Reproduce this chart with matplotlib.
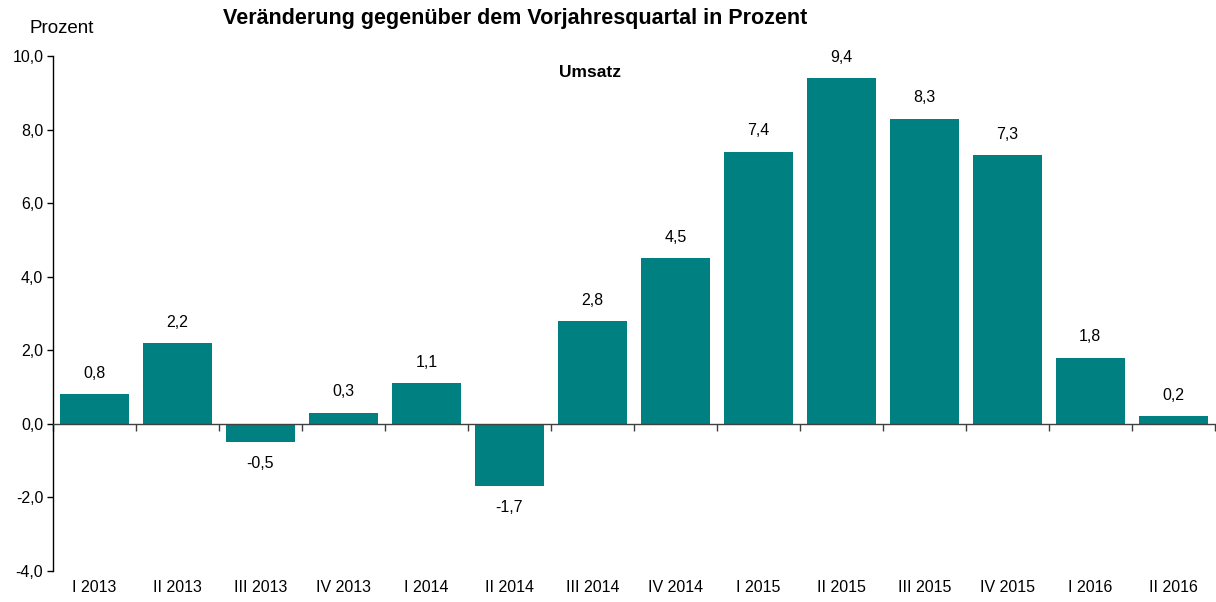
import matplotlib.pyplot as plt
import matplotlib.transforms as mtransforms
import numpy as np

plt.rcParams['font.family'] = ['Liberation Sans', 'DejaVu Sans']

quarters = ["I 2013", "II 2013", "III 2013", "IV 2013", "I 2014", "II 2014", "III 2014",
            "IV 2014", "I 2015", "II 2015", "III 2015", "IV 2015", "I 2016", "II 2016"]
umsatz = [0.8, 2.2, -0.5, 0.3, 1.1, -1.7, 2.8, 4.5, 7.4, 9.4, 8.3, 7.3, 1.8, 0.2]
yticks = [-4, -2, 0, 2, 4, 6, 8, 10]

teal = "#008080"

fig = plt.figure(figsize=(12.16, 6.02), dpi=100)
ax = fig.add_axes([0.0436, 0.0515, 0.9554, 0.8555])

x = np.arange(len(quarters))
ax.bar(x, umsatz, width=0.83, color=teal, zorder=2)

# value labels above / below bars
for xi, v in zip(x, umsatz):
    off = 15 if v >= 0 else -15
    ax.annotate(f"{v:.1f}".replace(".", ","), (xi, v), xytext=(0, off),
                textcoords="offset points", ha="center", va="center", fontsize=11.5)

ax.set_xlim(-0.5, len(quarters) - 0.5)
ax.set_ylim(-4, 10)
ax.set_yticks(yticks)
ax.set_yticklabels([f"{t:.1f}".replace(".", ",") for t in yticks], fontsize=11.5)
ax.tick_params(axis="y", direction="out", length=4, width=1, pad=3)

# x axis line at zero, ticks between categories
ax.spines["bottom"].set_position(("data", 0))
ax.spines["top"].set_visible(False)
ax.spines["right"].set_visible(False)
ax.spines["left"].set_linewidth(1)
ax.spines["bottom"].set_linewidth(1)
ax.spines["bottom"].set_color("#404040")
ax.set_xticks(np.arange(len(quarters) + 1) - 0.5)
ax.set_xticklabels([])
ax.tick_params(axis="x", direction="out", length=5, width=1, color="#404040")

# category labels at the bottom of the plot
trans = mtransforms.blended_transform_factory(ax.transData, ax.transAxes)
for xi, q in zip(x, quarters):
    ax.text(xi, -0.032, q, transform=trans, ha="center", va="center", fontsize=11.5)

fig.text(0.4235, 0.970, "Veränderung gegenüber dem Vorjahresquartal in Prozent",
         ha="center", va="center", fontsize=15.5, fontweight="bold")
fig.text(0.051, 0.953, "Prozent", ha="center", va="center", fontsize=13.5)
fig.text(0.4852, 0.879, "Umsatz", ha="center", va="center",
         fontsize=12.5, fontweight="bold")

fig.savefig("out.png", dpi=100)
